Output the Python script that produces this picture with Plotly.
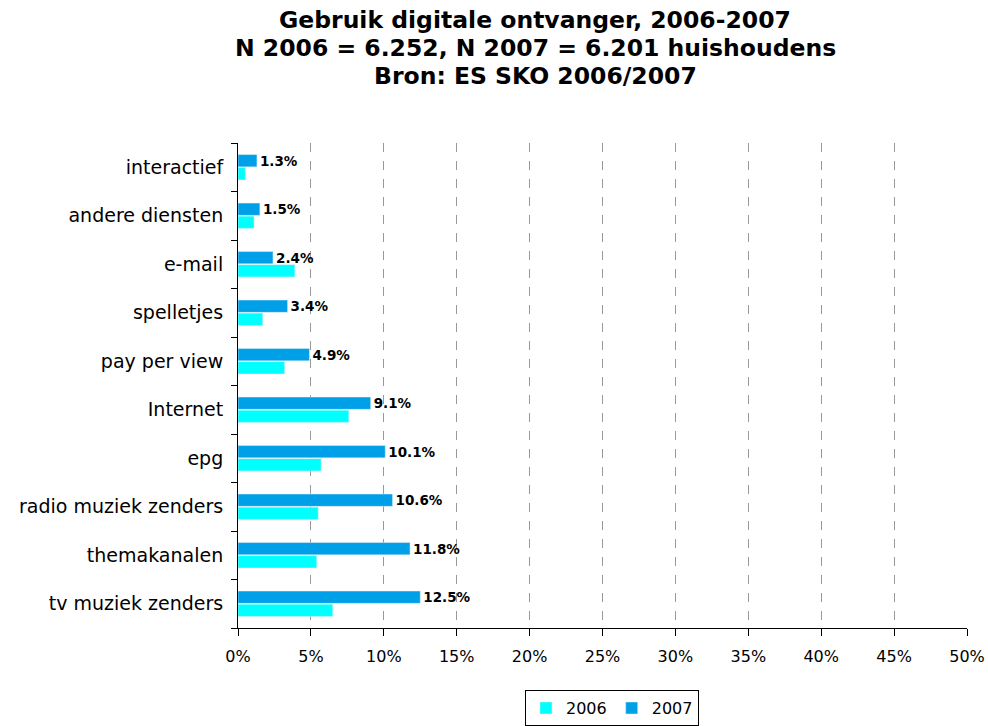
import plotly.graph_objects as go

categories = ["tv muziek zenders", "themakanalen", "radio muziek zenders", "epg", "Internet",
              "pay per view", "spelletjes", "e-mail", "andere diensten", "interactief"]
values_2006 = [6.5, 5.4, 5.5, 5.7, 7.6, 3.2, 1.7, 3.9, 1.1, 0.5]
values_2007 = [12.5, 11.8, 10.6, 10.1, 9.1, 4.9, 3.4, 2.4, 1.5, 1.3]
x_ticks = [0, 5, 10, 15, 20, 25, 30, 35, 40, 45, 50]
title_lines = ["Gebruik digitale ontvanger, 2006-2007",
               "N 2006 = 6.252, N 2007 = 6.201 huishoudens",
               "Bron: ES SKO 2006/2007"]

font_family = "Verdana, DejaVu Sans, sans-serif"

W, H = 988, 726
ML, MR, MT, MB = 238, 21, 143, 98
PW, PH = W - ML - MR, H - MT - MB

fig = go.Figure()
fig.add_trace(go.Bar(
    y=categories, x=values_2006, orientation="h", name="2006",
    marker=dict(color="#00FFFF"), hoverinfo="skip",
))
fig.add_trace(go.Bar(
    y=categories, x=values_2007, orientation="h", name="2007",
    marker=dict(color="#00A0E8"), hoverinfo="skip",
    text=[f"{v:.1f}%" for v in values_2007], textposition="outside",
    textfont=dict(family=font_family, size=13.5, color="black", weight="bold"),
    constraintext="none", cliponaxis=False,
))

title_y_px = [20, 48, 76]
for line, ypx in zip(title_lines, title_y_px):
    fig.add_annotation(
        text=f"<b>{line}</b>", xref="paper", yref="paper",
        x=(535 - ML) / PW, y=(H - MB - ypx) / PH,
        xanchor="center", yanchor="middle", showarrow=False,
        font=dict(size=23.5, family=font_family, color="black"),
    )

fig.update_layout(
    width=W, height=H,
    margin=dict(l=ML, r=MR, t=MT, b=MB, autoexpand=False),
    paper_bgcolor="white", plot_bgcolor="white",
    barmode="group", bargap=0.46, bargroupgap=0.06,
    font=dict(family=font_family, color="black"),
    legend=dict(
        orientation="h", x=0.513, xanchor="center", y=-0.128, yanchor="top",
        bordercolor="black", borderwidth=1,
        font=dict(size=16, family=font_family),
        traceorder="normal", itemwidth=30,
    ),
    showlegend=True,
)

fig.update_xaxes(
    range=[0, 50], tickvals=x_ticks, ticktext=[f"{t}%" for t in x_ticks],
    showgrid=True, gridcolor="#999999", griddash="dash", gridwidth=1,
    showline=True, linecolor="black", linewidth=1,
    ticks="outside", ticklen=7, tickcolor="black", ticklabelstandoff=7,
    tickfont=dict(size=16), zeroline=False, automargin=False,
)
fig.update_yaxes(
    showline=True, linecolor="black", linewidth=1,
    ticks="outside", ticklen=6, tickcolor="black", tickson="boundaries",
    ticklabelstandoff=10,
    tickfont=dict(size=19), showgrid=False, automargin=False,
)

fig.write_html(
    "out.html",
    config={"displayModeBar": False},
    post_script="document.body.style.margin='0';document.body.style.overflow='hidden';",
)
